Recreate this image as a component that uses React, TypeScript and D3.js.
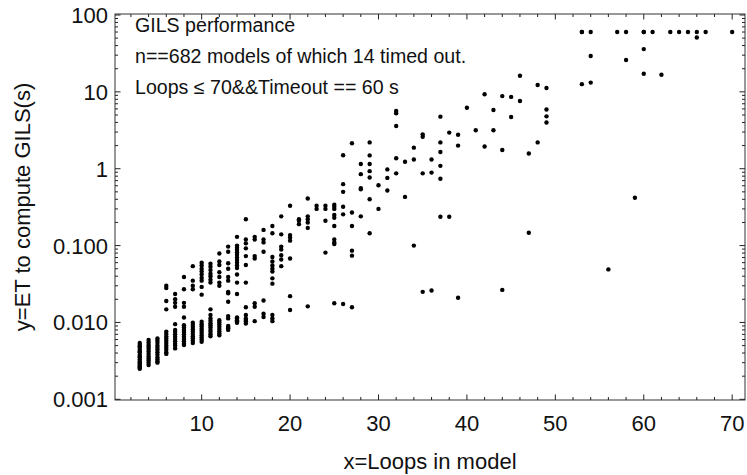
import React from "react";
import * as d3 from "d3";

// Loops in model (x) and the compute times (s) observed for each loop count
const loops: number[] = [
  3, 4, 5, 6, 7, 8, 9, 10, 11, 12, 13, 14, 15, 16, 17, 18, 19, 20,
  21, 22, 23, 24, 25, 26, 27, 28, 29, 30, 31, 32, 33, 34, 35, 36, 37, 38, 39, 40,
  41, 42, 43, 44, 45, 46, 47, 48, 49, 53, 54, 56, 57, 58, 59, 60, 61, 62, 63, 64,
  65, 66, 67, 70,
];

const times: number[][] = [
  /*3*/ [0.0054, 0.0051, 0.0049, 0.0047, 0.0044, 0.0042, 0.0041, 0.0038, 0.0036, 0.0035, 0.0033, 0.0031, 0.003, 0.0029, 0.0028, 0.0027, 0.0026, 0.0025],
  /*4*/ [0.0059, 0.0055, 0.0051, 0.0048, 0.0045, 0.0042, 0.0039, 0.0036, 0.0034, 0.0032, 0.003, 0.0028],
  /*5*/ [0.0062, 0.0058, 0.0054, 0.005, 0.0047, 0.0044, 0.0041, 0.0038, 0.0035, 0.0033, 0.0031, 0.003],
  /*6*/ [0.03, 0.028, 0.019, 0.0148, 0.0076, 0.0071, 0.0066, 0.0062, 0.0058, 0.0054, 0.005, 0.0047, 0.0044, 0.0041, 0.0039],
  /*7*/ [0.0235, 0.02, 0.018, 0.016, 0.0095, 0.008, 0.0075, 0.007, 0.0065, 0.0061, 0.0057, 0.0053, 0.005, 0.0046],
  /*8*/ [0.039, 0.027, 0.018, 0.016, 0.0116, 0.0092, 0.0086, 0.008, 0.0075, 0.007, 0.0065, 0.0061, 0.0057, 0.0053, 0.0051],
  /*9*/ [0.054, 0.035, 0.03, 0.027, 0.0099, 0.0093, 0.0087, 0.0081, 0.0076, 0.0071, 0.0066, 0.0062, 0.0058, 0.0054],
  /*10*/ [0.06, 0.055, 0.05, 0.046, 0.042, 0.038, 0.035, 0.029, 0.023, 0.0102, 0.0095, 0.0089, 0.0083, 0.0078, 0.0073, 0.0068, 0.0064, 0.006, 0.0056],
  /*11*/ [0.058, 0.053, 0.048, 0.043, 0.04, 0.036, 0.033, 0.0148, 0.0125, 0.0113, 0.0105, 0.0098, 0.0092, 0.0086, 0.008, 0.0075, 0.007, 0.0066],
  /*12*/ [0.079, 0.062, 0.056, 0.045, 0.039, 0.033, 0.03, 0.0107, 0.01, 0.0094, 0.0088, 0.0082, 0.0077, 0.0072, 0.0068],
  /*13*/ [0.097, 0.083, 0.059, 0.05, 0.039, 0.035, 0.025, 0.024, 0.0186, 0.0121, 0.0113, 0.009, 0.0087, 0.0084, 0.008],
  /*14*/ [0.13, 0.1, 0.094, 0.088, 0.082, 0.076, 0.07, 0.065, 0.06, 0.055, 0.051, 0.042, 0.033, 0.0235, 0.0116, 0.0113, 0.0107, 0.0104, 0.0099],
  /*15*/ [0.22, 0.12, 0.107, 0.092, 0.073, 0.056, 0.033, 0.0158, 0.0125, 0.0113, 0.0108, 0.0104, 0.0097],
  /*16*/ [0.13, 0.12, 0.073, 0.068, 0.0178, 0.016, 0.0104],
  /*17*/ [0.16, 0.12, 0.11, 0.083, 0.0193, 0.013, 0.0118],
  /*18*/ [0.18, 0.145, 0.071, 0.062, 0.055, 0.05, 0.046, 0.0375, 0.032, 0.0125, 0.0113, 0.0104],
  /*19*/ [0.24, 0.14, 0.097, 0.089, 0.075, 0.066, 0.054],
  /*20*/ [0.33, 0.137, 0.127, 0.116, 0.068, 0.022, 0.0145],
  /*21*/ [0.22, 0.21, 0.19],
  /*22*/ [0.41, 0.24, 0.22, 0.2, 0.17, 0.0162],
  /*23*/ [0.33, 0.3],
  /*24*/ [0.33, 0.3, 0.21, 0.081],
  /*25*/ [0.34, 0.32, 0.3, 0.25, 0.23, 0.18, 0.12, 0.11, 0.105, 0.0178],
  /*26*/ [1.5, 0.63, 0.5, 0.32, 0.255, 0.0174],
  /*27*/ [2.14, 0.27, 0.18, 0.086, 0.074, 0.0158],
  /*28*/ [1.15, 0.85, 0.56, 0.54, 0.24],
  /*29*/ [2.2, 1.49, 1.15, 0.93, 0.77, 0.4, 0.145],
  /*30*/ [0.61, 0.3],
  /*31*/ [0.98, 0.76, 0.52],
  /*32*/ [5.64, 5.27, 3.6, 1.37, 0.87],
  /*33*/ [1.23, 0.43],
  /*34*/ [1.88, 1.32, 0.1],
  /*35*/ [2.8, 2.6, 0.87, 0.025],
  /*36*/ [1.32, 0.89, 0.026],
  /*37*/ [4.76, 2.2, 1.65, 1.09, 0.74, 0.237],
  /*38*/ [2.95, 0.237],
  /*39*/ [2.77, 2.0, 0.021],
  /*40*/ [6.2],
  /*41*/ [3.16],
  /*42*/ [9.3, 1.95],
  /*43*/ [5.8, 3.16],
  /*44*/ [8.8, 1.75, 0.0265],
  /*45*/ [8.6, 4.7],
  /*46*/ [16.2, 7.6],
  /*47*/ [1.58, 0.147],
  /*48*/ [12.3, 2.2],
  /*49*/ [11.2, 5.9, 4.8, 4.0],
  /*53*/ [60, 60, 12.6],
  /*54*/ [60, 29.3, 13.2],
  /*56*/ [0.049],
  /*57*/ [60],
  /*58*/ [60, 26],
  /*59*/ [0.42],
  /*60*/ [60, 60, 36, 17.2],
  /*61*/ [60],
  /*62*/ [16.7],
  /*63*/ [60],
  /*64*/ [60],
  /*65*/ [60],
  /*66*/ [60, 51],
  /*67*/ [60],
  /*70*/ [60],
];

const xTicks: number[] = [10, 20, 30, 40, 50, 60, 70];
const yTicks: number[] = [0.001, 0.01, 0.1, 1, 10, 100];
const yTickLabels: string[] = ["0.001", "0.010", "0.100", "1", "10", "100"];

const infoLines: string[] = [
  "GILS performance",
  "n==682 models of which 14 timed out.",
  "Loops \u2264 70&&Timeout == 60 s",
];
const xTitle = "x=Loops in model";
const yTitle = "y=ET to compute GILS(s)";

const W = 747;
const H = 475;
const L = 115;
const R = 745;
const T = 14;
const B = 400;
const FONT = "'Liberation Sans', Arial, sans-serif";

export default function App() {
  const x = d3.scaleLinear().domain([0.2, 71.45]).range([L, R]);
  const y = d3.scaleLog().domain([0.00098, 103]).range([B, T]);

  const points: { lx: number; t: number }[] = [];
  loops.forEach((lx, i) => times[i].forEach((t) => points.push({ lx, t })));

  const xMinor = d3.range(2, 72, 2).filter((v) => v % 10 !== 0);
  const yMinor: number[] = [];
  for (let e = -3; e <= 1; e++) {
    for (let m = 2; m <= 9; m++) yMinor.push(m * Math.pow(10, e));
  }

  const tickColor = "#222";
  const majorLen = 5.5;
  const minorLen = 3;

  return (
    <svg
      width={W}
      height={H}
      style={{ position: "absolute", left: 0, top: 0, background: "#fff" }}
      fontFamily={FONT}
    >
      {/* frame */}
      <rect x={L} y={T} width={R - L} height={B - T} fill="none" stroke="#333" strokeWidth={1} />

      {/* x ticks bottom and top */}
      {xTicks.map((v) => (
        <g key={"xt" + v} stroke={tickColor} strokeWidth={1}>
          <line x1={x(v)} x2={x(v)} y1={B} y2={B - majorLen} />
          <line x1={x(v)} x2={x(v)} y1={T} y2={T + majorLen} />
        </g>
      ))}
      {xMinor.map((v) => (
        <g key={"xm" + v} stroke={tickColor} strokeWidth={1}>
          <line x1={x(v)} x2={x(v)} y1={B} y2={B - minorLen} />
          <line x1={x(v)} x2={x(v)} y1={T} y2={T + minorLen} />
        </g>
      ))}
      {xTicks.map((v) => (
        <text key={"xl" + v} x={x(v)} y={430.5} textAnchor="middle" fontSize={22} fill="#111">
          {v}
        </text>
      ))}

      {/* y ticks left and right */}
      {yTicks.map((v) => (
        <g key={"yt" + v} stroke={tickColor} strokeWidth={1}>
          <line x1={L} x2={L + majorLen} y1={y(v)} y2={y(v)} />
          <line x1={R} x2={R - majorLen} y1={y(v)} y2={y(v)} />
        </g>
      ))}
      {yMinor.map((v) => (
        <g key={"ym" + v} stroke={tickColor} strokeWidth={1}>
          <line x1={L} x2={L + minorLen} y1={y(v)} y2={y(v)} />
          <line x1={R} x2={R - minorLen} y1={y(v)} y2={y(v)} />
        </g>
      ))}
      {yTicks.map((v, i) => (
        <text key={"yl" + v} x={108} y={y(v)} dy="0.36em" textAnchor="end" fontSize={22} fill="#111">
          {yTickLabels[i]}
        </text>
      ))}

      {/* points */}
      {points.map((p, i) => (
        <circle key={i} cx={x(p.lx)} cy={y(p.t)} r={2.2} fill="#000" />
      ))}

      {/* info text */}
      {infoLines.map((s, i) => (
        <text key={"info" + i} x={135} y={32.3 + i * 30.8} fontSize={19.6} fill="#111">
          {s}
        </text>
      ))}

      {/* axis titles */}
      <text x={(L + R) / 2} y={469} textAnchor="middle" fontSize={22} fill="#111">
        {xTitle}
      </text>
      <text
        transform={`translate(29.5,${(T + B) / 2}) rotate(-90)`}
        textAnchor="middle"
        fontSize={22}
        fill="#111"
      >
        {yTitle}
      </text>
    </svg>
  );
}
